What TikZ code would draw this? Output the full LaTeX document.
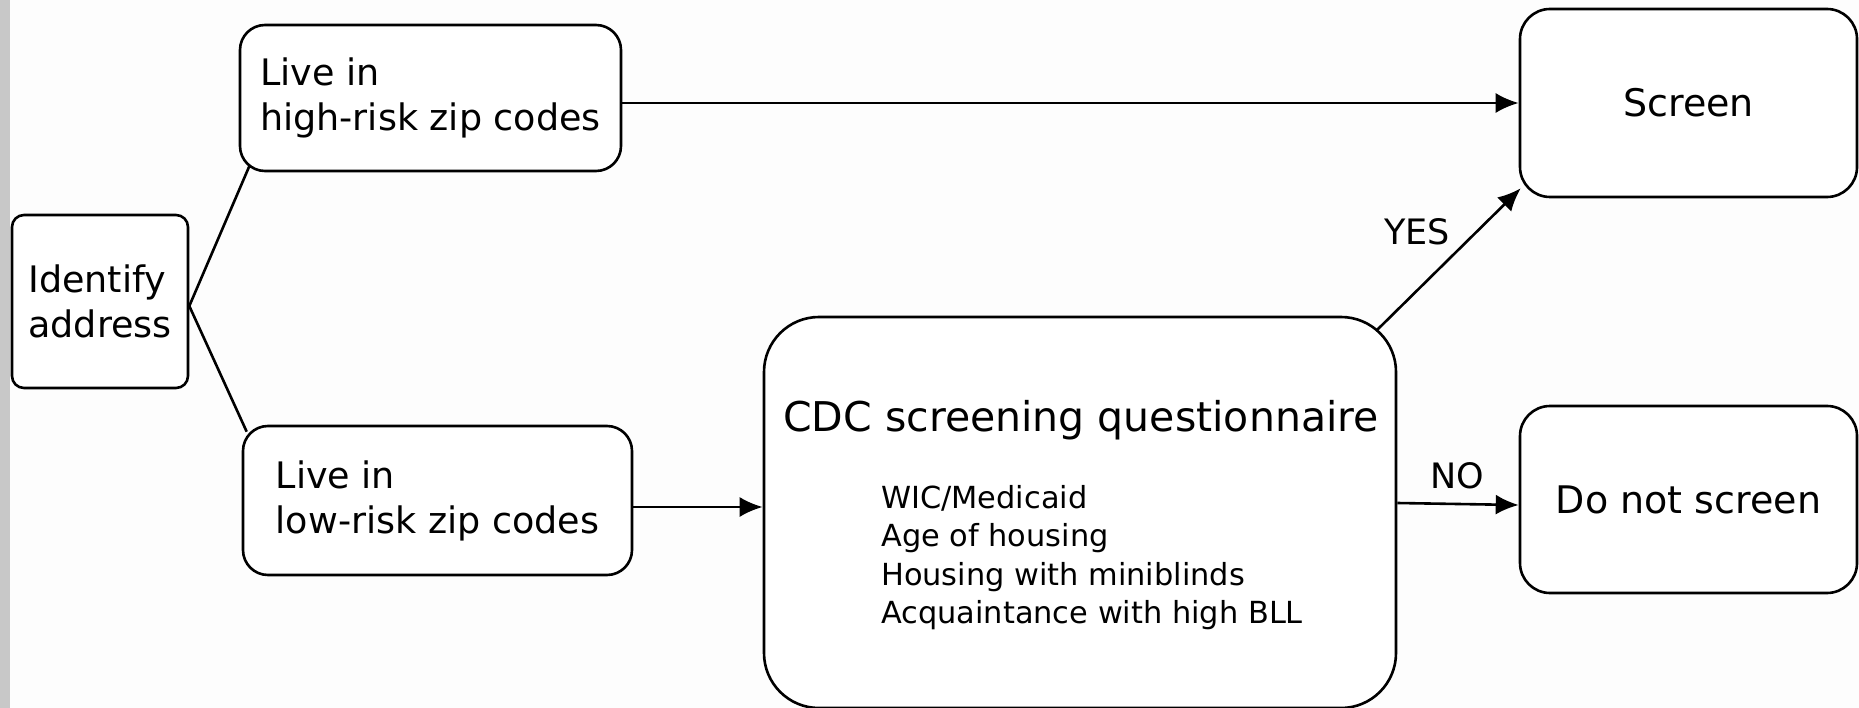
\documentclass[tikz,border=0pt]{standalone}
\usepackage{fontspec}
\setmainfont{DejaVu Sans}
\usetikzlibrary{arrows.meta}
\definecolor{bgwhite}{RGB}{253,253,253}
\definecolor{bargray}{RGB}{200,200,200}
\tikzset{
  box/.style={draw, line width=2.6pt, align=left, inner sep=0pt, fill=white},
  conn/.style={line width=2.6pt},
  arr/.style={conn, -{Latex[length=23pt,width=20pt]}},
  boxfont/.style={font=\fontsize{36.5}{45}\selectfont},
  lblfont/.style={font=\fontsize{35}{40}\selectfont}
}
\begin{document}
\begin{tikzpicture}[x=1pt, y=-1pt]
  \useasboundingbox (0,0) rectangle (1859,708);
  \fill[bgwhite] (0,0) rectangle (1859,708);
  \fill[bargray] (0,0) rectangle (10,708);

  \node[box, boxfont, rounded corners=12pt, minimum width=176pt, minimum height=173pt] (id) at (100,301.5) {Identify\\address};
  \node[box, boxfont, rounded corners=25pt, minimum width=381pt, minimum height=146pt] (hi) at (430.5,98) {Live in\\high-risk zip codes};
  \node[box, boxfont, rounded corners=25pt, minimum width=389pt, minimum height=149pt] (lo) at (437.5,500.5) {Live in\\low-risk zip codes};
  \node[box, font=\fontsize{38}{45}\selectfont, rounded corners=30pt, minimum width=337pt, minimum height=188pt] (scr) at (1688.5,103) {Screen};
  \node[box, font=\fontsize{38}{45}\selectfont, rounded corners=30pt, minimum width=337pt, minimum height=187pt] (dns) at (1688.5,499.5) {Do not screen};
  \node[box, rounded corners=55pt, minimum width=632pt, minimum height=391pt] (cdc) at (1080,512.5) {};
  \node[font=\fontsize{41}{48}\selectfont, anchor=base, inner sep=0pt] (title) at (1081,431) {CDC screening questionnaire};
  \node[font=\fontsize{30.4}{38.5}\selectfont, align=left, anchor=north west, inner sep=0pt] (items) at (881,485) {WIC/Medicaid\\Age of housing\\Housing with miniblinds\\Acquaintance with high BLL};

  \draw[conn] ([yshift=-4.5pt]id.east) -- ([xshift=11pt,yshift=7pt]hi.south west);
  \draw[conn] ([yshift=-4.5pt]id.east) -- ([xshift=5pt,yshift=-7pt]lo.north west);
  \draw[arr] (hi.east |- scr.west) -- (scr.west);
  \draw[arr] ([yshift=-6.5pt]lo.east) -- ([yshift=-6.5pt]lo.east -| cdc.west);
  \draw[arr] ([xshift=-21pt,yshift=-15pt]cdc.north east) -- ([xshift=2pt,yshift=10pt]scr.south west);
  \draw[arr] ([yshift=9.5pt]cdc.east) -- ([yshift=-5.5pt]dns.west);

  \node[lblfont] (yes) at (1417,232) {YES};
  \node[lblfont] (no) at (1457,476) {NO};
\end{tikzpicture}
\end{document}
